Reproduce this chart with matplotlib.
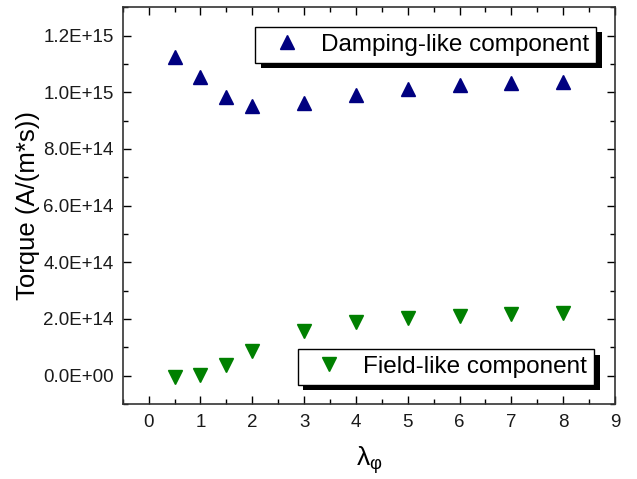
import matplotlib
matplotlib.use("Agg")
import matplotlib.pyplot as plt
import numpy as np
from matplotlib.ticker import MultipleLocator, FuncFormatter
from matplotlib.patches import Rectangle
from matplotlib.transforms import IdentityTransform

plt.rcParams['font.family'] = ['Liberation Sans', 'DejaVu Sans']
plt.rcParams['mathtext.fontset'] = 'custom'
plt.rcParams['mathtext.rm'] = 'Liberation Sans'
plt.rcParams['mathtext.it'] = 'Liberation Sans'

# data
lam = [0.5, 1, 1.5, 2, 3, 4, 5, 6, 7, 8]
damping = [1.123e15, 1.053e15, 0.985e15, 0.950e15, 0.961e15, 0.989e15,
           1.011e15, 1.024e15, 1.032e15, 1.038e15]
field = [-0.005e15, 0.004e15, 0.039e15, 0.088e15, 0.156e15, 0.188e15,
         0.204e15, 0.212e15, 0.218e15, 0.220e15]


def add_shadow(fig, ax, leg, off=5.5):
    # Origin-style solid black drop shadow behind a legend box
    fig.canvas.draw()
    bb = leg.get_frame().get_window_extent()
    r = Rectangle((bb.x0 + off, bb.y0 - off), bb.width, bb.height,
                  transform=IdentityTransform(), facecolor='black',
                  edgecolor='none', zorder=4, clip_on=False)
    ax.add_artist(r)


fig = plt.figure(figsize=(6.37, 4.79), dpi=100)
ax = fig.add_axes([0.1926, 0.1566, 0.7729, 0.8282])

h1, = ax.plot(lam, damping, '^', color='#000080', ms=10.5, mec='#000080', ls='none',
              label='Damping-like component')
h2, = ax.plot(lam, field, 'v', color='#008000', ms=10.5, mec='#008000', ls='none',
              label='Field-like component')

ax.set_xlim(-0.5, 9)
ax.set_ylim(-1e14, 1.3e15)
ax.xaxis.set_major_locator(MultipleLocator(1))
ax.xaxis.set_minor_locator(MultipleLocator(0.5))
ax.yaxis.set_major_locator(MultipleLocator(2e14))
ax.yaxis.set_minor_locator(MultipleLocator(1e14))
ax.yaxis.set_major_formatter(FuncFormatter(lambda v, p: f"{v:.1E}"))
ax.tick_params(which='both', direction='in', top=True, right=True, labelsize=13.5,
               labelcolor='#1a1a1a')
ax.tick_params(axis='y', pad=6.5)
ax.tick_params(axis='x', pad=7)
ax.tick_params(which='major', length=6, width=1)
ax.tick_params(which='minor', length=3.6, width=1)
for s in ax.spines.values():
    s.set_linewidth(1.2)
    s.set_color('#333333')

ax.set_ylabel('Torque (A/(m*s))', fontsize=18.5, labelpad=2)
ax.set_xlabel(r'$\lambda_{\varphi}$', fontsize=19, labelpad=10)

leg_kw = dict(fontsize=17.5, frameon=True, fancybox=False, framealpha=1,
              edgecolor='black', borderpad=0.28, handlelength=2.0,
              handletextpad=0.42, borderaxespad=0, loc='upper right')
leg1 = ax.legend(handles=[h1], bbox_to_anchor=(0.9614, 0.9503), **leg_kw)
leg1.get_frame().set_linewidth(1)
leg1.set_zorder(5)
ax.add_artist(leg1)
leg2 = ax.legend(handles=[h2], bbox_to_anchor=(0.9573, 0.1386), **leg_kw)
leg2.get_frame().set_linewidth(1)
leg2.set_zorder(5)

add_shadow(fig, ax, leg1)
add_shadow(fig, ax, leg2)

fig.savefig('out.png', dpi=100)
